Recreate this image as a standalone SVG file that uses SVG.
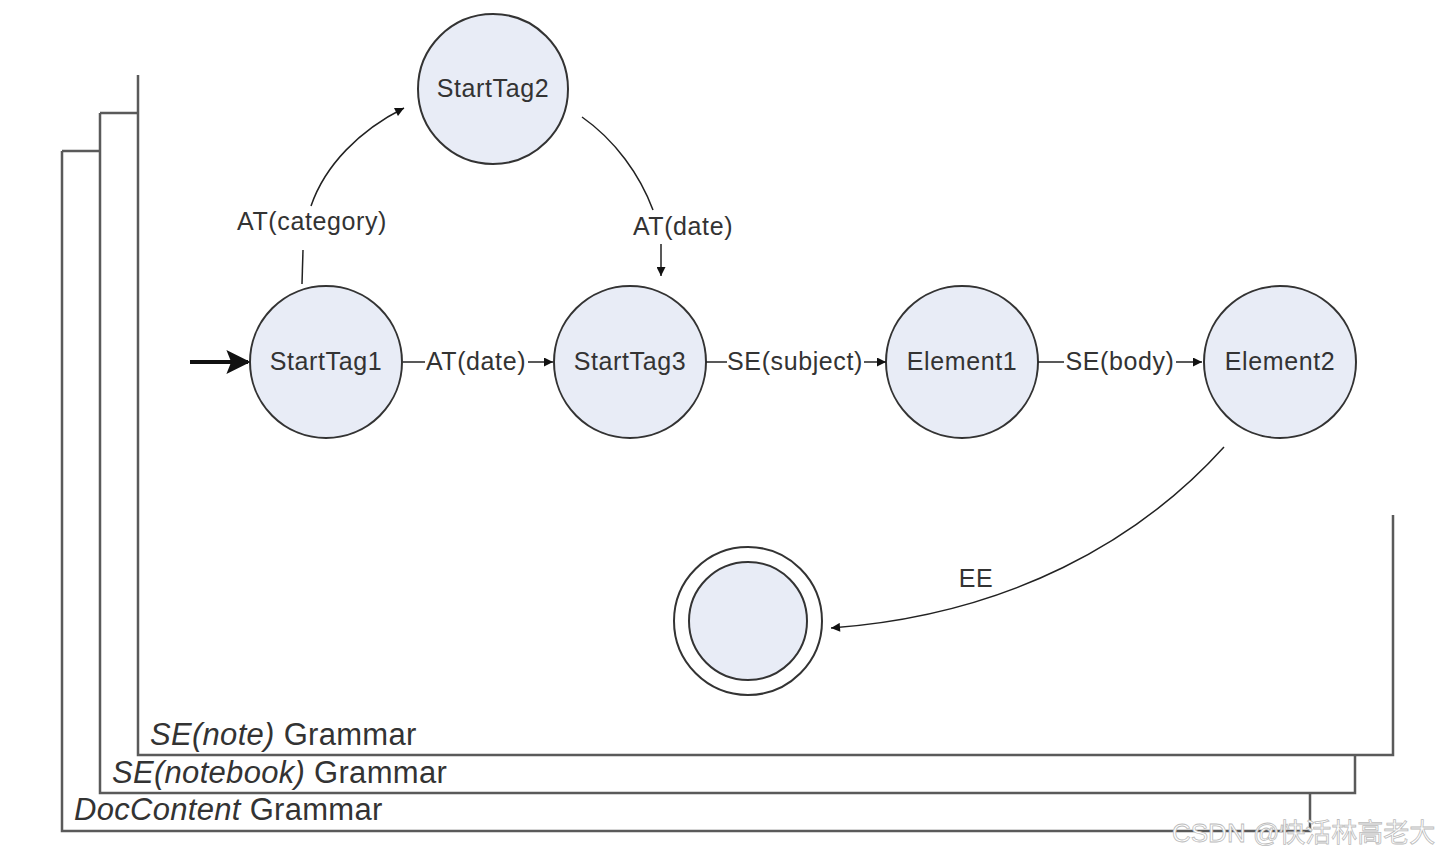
<svg xmlns="http://www.w3.org/2000/svg" width="1443" height="860" viewBox="0 0 1443 860">
<style>
.node{fill:#e8ecf6;stroke:#333;stroke-width:2}
.lbl{font-family:"Liberation Sans",Arial,sans-serif;font-size:25px;letter-spacing:0.6px;fill:#333;text-anchor:middle}
.edge{fill:none;stroke:#222;stroke-width:1.5}
.frame{fill:none;stroke:#5a5a5a;stroke-width:2.5}
.gram{font-family:"Liberation Sans",Arial,sans-serif;font-size:31px;letter-spacing:0.3px;fill:#333}
</style>
<defs>
<marker id="ah" viewBox="0 0 10 10" refX="10" refY="5" markerWidth="10" markerHeight="9" markerUnits="userSpaceOnUse" orient="auto"><path d="M0,0 L10,5 L0,10 Z" fill="#111"/></marker>
<marker id="big" viewBox="0 0 10 10" refX="9" refY="5" markerWidth="6" markerHeight="6" orient="auto"><path d="M0,0 L10,5 L0,10 L2,5 Z" fill="#111"/></marker>
</defs>
<rect width="1443" height="860" fill="#fff"/>
<g id="frames">
<polyline class="frame" points="62,151 100,151"/>
<polyline class="frame" points="62,151 62,831 1310,831 1310,793"/>
<polyline class="frame" points="100,113 138,113"/>
<polyline class="frame" points="100,113 100,793 1355,793 1355,755"/>
<polyline class="frame" points="138,75 138,755 1393,755 1393,515"/>
<text class="gram" x="150" y="745"><tspan font-style="italic">SE(note)</tspan> Grammar</text>
<text class="gram" x="112" y="783"><tspan font-style="italic">SE(notebook)</tspan> Grammar</text>
<text class="gram" x="74" y="820"><tspan font-style="italic">DocContent</tspan> Grammar</text>
</g>
<g id="StartTag1"><circle class="node" cx="326" cy="362" r="76"/><text class="lbl" x="326" y="370">StartTag1</text></g>
<g id="StartTag2"><circle class="node" cx="493" cy="89" r="75"/><text class="lbl" x="493" y="97">StartTag2</text></g>
<g id="StartTag3"><circle class="node" cx="630" cy="362" r="76"/><text class="lbl" x="630" y="370">StartTag3</text></g>
<g id="Element1"><circle class="node" cx="962" cy="362" r="76"/><text class="lbl" x="962" y="370">Element1</text></g>
<g id="Element2"><circle class="node" cx="1280" cy="362" r="76"/><text class="lbl" x="1280" y="370">Element2</text></g>
<g id="Final"><circle class="node" cx="748" cy="621" r="74" style="fill:#fff"/><circle class="node" cx="748" cy="621" r="59"/></g>
<g id="connectors">
<line x1="190" y1="362" x2="248" y2="362" stroke="#111" stroke-width="4" marker-end="url(#big)"/>
<line class="edge" x1="403" y1="362" x2="425" y2="362"/>
<line class="edge" x1="528" y1="362" x2="553" y2="362" marker-end="url(#ah)"/>
<text class="lbl" x="476" y="370">AT(date)</text>
<line class="edge" x1="706" y1="362" x2="727" y2="362"/>
<line class="edge" x1="864" y1="362" x2="886" y2="362" marker-end="url(#ah)"/>
<text class="lbl" x="795" y="370">SE(subject)</text>
<line class="edge" x1="1038" y1="362" x2="1064" y2="362"/>
<line class="edge" x1="1176" y1="362" x2="1202" y2="362" marker-end="url(#ah)"/>
<text class="lbl" x="1120" y="370">SE(body)</text>
<path class="edge" d="M302,284 L303,250"/>
<path class="edge" d="M311,206 C325,165 360,130 404,108" marker-end="url(#ah)"/>
<text class="lbl" x="312" y="230">AT(category)</text>
<path class="edge" d="M582,117 C615,140 640,175 653,210"/>
<text class="lbl" x="683" y="235">AT(date)</text>
<line class="edge" x1="661" y1="244" x2="661" y2="276" marker-end="url(#ah)"/>
<path class="edge" d="M1224,447 C1140,540 1010,615 831,628" marker-end="url(#ah)"/>
<text class="lbl" x="976" y="587">EE</text>
</g>
<text x="1172" y="842" font-family="'Liberation Sans','Noto Sans CJK SC',sans-serif" font-size="26" fill="#fff" stroke="#bbb" stroke-width="0.8">CSDN @快活林高老大</text>
</svg>
